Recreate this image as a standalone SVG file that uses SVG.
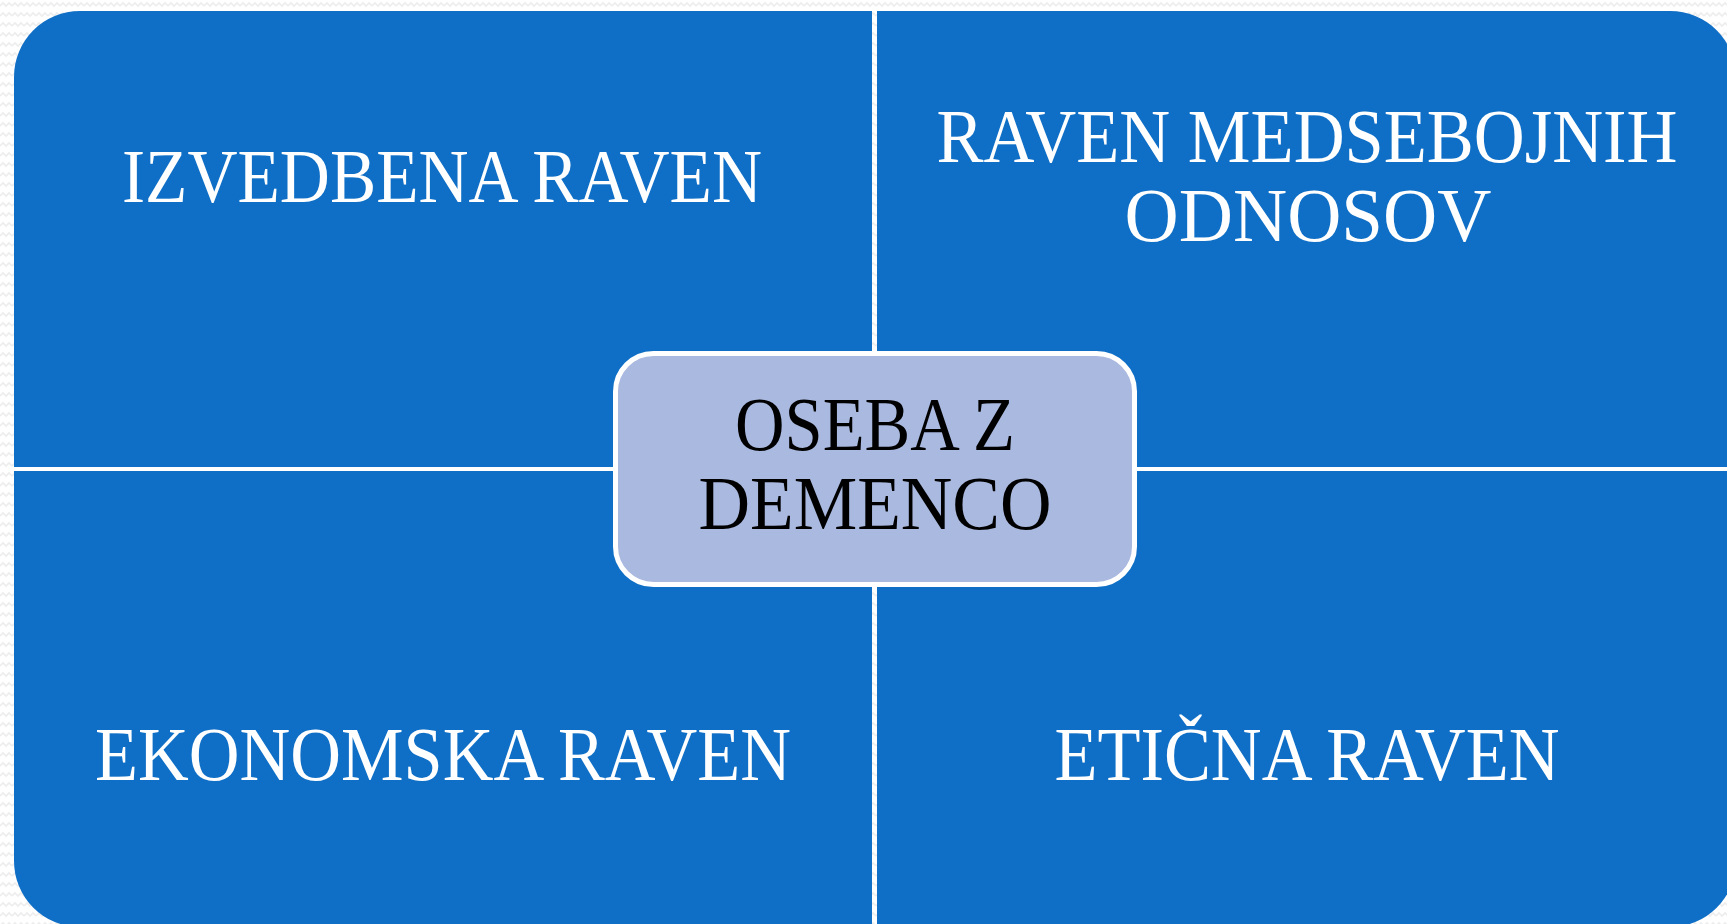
<svg xmlns="http://www.w3.org/2000/svg" width="1727" height="924" viewBox="0 0 1727 924">
  <style>
    .quad { fill: #0F6FC6; }
    .lbl { font-family: "Liberation Serif", "DejaVu Serif", serif; font-size: 76px; fill: #FFFFFF; text-anchor: middle; }
    .center-lbl { font-family: "Liberation Serif", "DejaVu Serif", serif; font-size: 76px; fill: #000000; text-anchor: middle; }
    .center-box { fill: #A9B9DF; stroke: #FFFFFF; stroke-width: 5; }
  </style>
  <defs>
    <pattern id="zig" width="12" height="10" patternUnits="userSpaceOnUse">
      <rect width="12" height="10" fill="#FFFFFF"/>
      <path d="M0 6 L3 3 L6 6 L9 3 L12 6" fill="none" stroke="#EDEDED" stroke-width="1.6"/>
    </pattern>
  </defs>
  <rect width="1727" height="924" fill="url(#zig)"/>

  <g id="quad-izvedbena">
    <path class="quad" d="M14,467 V77 A66,66 0 0 1 80,11 H872 V467 Z"/>
    <text class="lbl" x="442" y="202" textLength="640" lengthAdjust="spacingAndGlyphs">IZVEDBENA RAVEN</text>
  </g>

  <g id="quad-medsebojni">
    <path class="quad" d="M877,11 H1670 A66,66 0 0 1 1736,77 V467 H877 Z"/>
    <text class="lbl" x="1307" y="162" textLength="741" lengthAdjust="spacingAndGlyphs">RAVEN MEDSEBOJNIH</text>
    <text class="lbl" x="1308" y="241" textLength="367" lengthAdjust="spacingAndGlyphs">ODNOSOV</text>
  </g>

  <g id="quad-ekonomska">
    <path class="quad" d="M14,471 H872 V927 H80 A66,66 0 0 1 14,861 Z"/>
    <text class="lbl" x="443" y="780" textLength="696" lengthAdjust="spacingAndGlyphs">EKONOMSKA RAVEN</text>
  </g>

  <g id="quad-eticna">
    <path class="quad" d="M877,471 H1736 V861 A66,66 0 0 1 1670,927 H877 Z"/>
    <text class="lbl" x="1307" y="780" textLength="505" lengthAdjust="spacingAndGlyphs">ETIČNA RAVEN</text>
  </g>

  <g id="connectors"></g>

  <g id="center-oseba">
    <rect class="center-box" x="615.5" y="353.5" width="519" height="231" rx="38" ry="38"/>
    <text class="center-lbl" x="875" y="450" textLength="280" lengthAdjust="spacingAndGlyphs">OSEBA Z</text>
    <text class="center-lbl" x="875" y="529" textLength="353" lengthAdjust="spacingAndGlyphs">DEMENCO</text>
  </g>
</svg>
